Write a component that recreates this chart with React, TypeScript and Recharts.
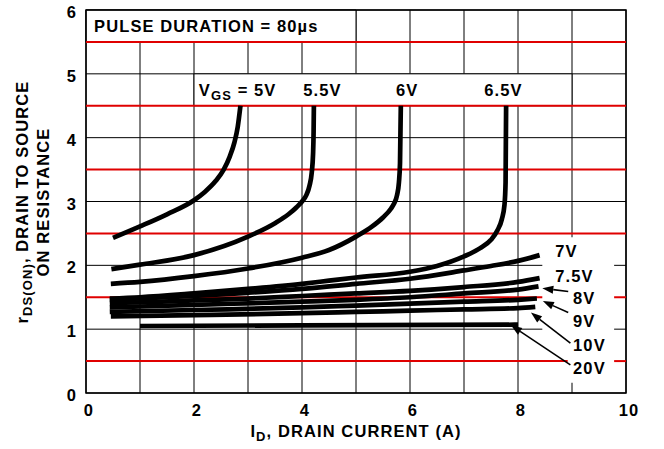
import React from 'react'
import {
  LineChart,
  Line,
  XAxis,
  YAxis,
  CartesianGrid,
  ReferenceArea,
  ReferenceLine,
  ReferenceDot,
} from 'recharts'

// rDS(ON) vs ID, one array per gate voltage (id = amps, r = normalized ohms)
const vgs5 = [
  { id: 0.5, r: 2.43 }, { id: 1, r: 2.61 }, { id: 1.5, r: 2.8 }, { id: 2, r: 3.02 },
  { id: 2.2, r: 3.15 }, { id: 2.4, r: 3.32 }, { id: 2.55, r: 3.5 }, { id: 2.66, r: 3.7 },
  { id: 2.75, r: 3.93 }, { id: 2.81, r: 4.17 }, { id: 2.86, r: 4.5 },
]
const vgs55 = [
  { id: 0.47, r: 1.94 }, { id: 1, r: 2.01 }, { id: 2, r: 2.16 }, { id: 3, r: 2.45 },
  { id: 3.5, r: 2.66 }, { id: 3.75, r: 2.8 }, { id: 3.9, r: 2.91 }, { id: 4, r: 3.0 },
  { id: 4.08, r: 3.1 }, { id: 4.14, r: 3.25 }, { id: 4.18, r: 3.45 }, { id: 4.205, r: 3.75 },
  { id: 4.215, r: 4.1 }, { id: 4.22, r: 4.5 },
]
const vgs6 = [
  { id: 0.46, r: 1.71 }, { id: 1, r: 1.74 }, { id: 2, r: 1.83 }, { id: 3, r: 1.95 },
  { id: 4, r: 2.12 }, { id: 4.5, r: 2.24 }, { id: 5, r: 2.45 }, { id: 5.3, r: 2.61 },
  { id: 5.5, r: 2.75 }, { id: 5.65, r: 2.89 }, { id: 5.7, r: 2.96 }, { id: 5.76, r: 3.1 },
  { id: 5.795, r: 3.3 }, { id: 5.815, r: 3.6 }, { id: 5.83, r: 4.5 },
]
const vgs65 = [
  { id: 0.44, r: 1.48 }, { id: 1, r: 1.5 }, { id: 2, r: 1.56 }, { id: 3, r: 1.63 },
  { id: 4, r: 1.71 }, { id: 4.5, r: 1.76 }, { id: 5, r: 1.81 }, { id: 6, r: 1.9 },
  { id: 6.5, r: 1.99 }, { id: 7, r: 2.14 }, { id: 7.3, r: 2.27 }, { id: 7.5, r: 2.4 },
  { id: 7.62, r: 2.55 }, { id: 7.7, r: 2.72 }, { id: 7.75, r: 2.95 }, { id: 7.77, r: 3.3 },
  { id: 7.78, r: 4.5 },
]
const vgs7 = [
  { id: 0.44, r: 1.46 }, { id: 1, r: 1.48 }, { id: 2, r: 1.52 }, { id: 3, r: 1.57 },
  { id: 4, r: 1.63 }, { id: 5, r: 1.71 }, { id: 6, r: 1.79 }, { id: 7, r: 1.92 },
  { id: 7.5, r: 1.99 }, { id: 8, r: 2.07 }, { id: 8.4, r: 2.16 },
]
const vgs75 = [
  { id: 0.44, r: 1.41 }, { id: 1, r: 1.42 }, { id: 2, r: 1.45 }, { id: 3, r: 1.48 },
  { id: 4, r: 1.52 }, { id: 5, r: 1.56 }, { id: 6, r: 1.6 }, { id: 7, r: 1.66 },
  { id: 8, r: 1.74 }, { id: 8.4, r: 1.8 },
]
const vgs8 = [
  { id: 0.44, r: 1.34 }, { id: 2, r: 1.38 }, { id: 4, r: 1.43 }, { id: 5, r: 1.46 },
  { id: 6, r: 1.5 }, { id: 7, r: 1.56 }, { id: 8, r: 1.62 }, { id: 8.38, r: 1.67 },
]
const vgs9 = [
  { id: 0.44, r: 1.27 }, { id: 2, r: 1.3 }, { id: 4, r: 1.34 }, { id: 5, r: 1.37 },
  { id: 6, r: 1.4 }, { id: 7, r: 1.43 }, { id: 8, r: 1.46 }, { id: 8.35, r: 1.48 },
]
const vgs10 = [
  { id: 0.46, r: 1.2 }, { id: 2, r: 1.22 }, { id: 4, r: 1.25 }, { id: 5, r: 1.27 },
  { id: 6, r: 1.29 }, { id: 7, r: 1.31 }, { id: 8, r: 1.33 }, { id: 8.32, r: 1.35 },
]
const vgs20 = [
  { id: 1, r: 1.05 }, { id: 4, r: 1.06 }, { id: 8, r: 1.07 },
]

const curves = [vgs5, vgs55, vgs6, vgs65, vgs7, vgs75, vgs8, vgs9, vgs10, vgs20]

const X_MAX = 10
const Y_MAX = 6
const xTicks = [0, 1, 2, 3, 4, 5, 6, 7, 8, 9, 10]
const yTicks = [0, 1, 2, 3, 4, 5, 6]
const yHalf = [0.5, 1.5, 2.5, 3.5, 4.5, 5.5]

// labels on top of the curves
const topLabels = [
  { x: 4.38, text: '5.5V' },
  { x: 5.95, text: '6V' },
  { x: 7.73, text: '6.5V' },
]
const sideLabels = [
  { x: 8.69, y: 2.22, text: '7V' },
  { x: 8.69, y: 1.83, text: '7.5V' },
  { x: 9.02, y: 1.48, text: '8V' },
  { x: 9.02, y: 1.12, text: '9V' },
  { x: 9.02, y: 0.75, text: '10V' },
  { x: 9.02, y: 0.39, text: '20V' },
]
// arrows: tail near the label, tip at the curve end
const arrows = [
  [{ x: 8.93, y: 1.59 }, { x: 8.45, y: 1.64 }],
  [{ x: 8.93, y: 1.26 }, { x: 8.46, y: 1.44 }],
  [{ x: 8.97, y: 0.78 }, { x: 8.24, y: 1.26 }],
  [{ x: 8.97, y: 0.44 }, { x: 7.87, y: 1.06 }],
]

// half-step grid line, broken where the right-hand label column sits
const halfSpans = (v: number) => {
  if (v === 0.5) return [[0, 8.92], [9.78, X_MAX]]
  if (v === 1.5) return [[0, 8.45], [9.78, X_MAX]]
  return [[0, X_MAX]]
}
const gridSegs = yHalf.flatMap((v) =>
  halfSpans(v).map(([a, b]) => [{ id: a, r: v }, { id: b, r: v }])
)

const font = "'Liberation Sans', Arial, Helvetica, sans-serif"
const txt = { fontFamily: font, fontWeight: 700, fontSize: 16.5, fill: '#000', letterSpacing: 1.1 }

const XTick = ({ x, y, payload }: any) =>
  payload.value % 2 === 0 ? (
    <text x={x + 3} y={y + 23} textAnchor="middle" style={txt}>{payload.value}</text>
  ) : <g />

const YTick = ({ x, y, payload }: any) => (
  <text x={x - 9} y={y + 8} textAnchor="end" style={txt}>{payload.value}</text>
)

const XTitle = () => (
  <text x={356} y={437} textAnchor="middle" style={txt}>
    I<tspan dy={4} fontSize={13}>D</tspan><tspan dy={-4}>, DRAIN CURRENT (A)</tspan>
  </text>
)

const YTitle = () => (
  <g>
    <text x={28} y={202} transform="rotate(-90 28 202)" textAnchor="middle" style={txt}>
      r<tspan dy={4} fontSize={13}>DS(ON)</tspan><tspan dy={-4}>, DRAIN TO SOURCE</tspan>
    </text>
    <text x={49} y={202} transform="rotate(-90 49 202)" textAnchor="middle" style={txt}>
      ON RESISTANCE
    </text>
  </g>
)

const ArrowShape = (p: any) => {
  const { x1, y1, x2, y2 } = p
  const a = Math.atan2(y2 - y1, x2 - x1)
  const len = 11
  const half = 4
  const bx = x2 - len * Math.cos(a)
  const by = y2 - len * Math.sin(a)
  const px = -Math.sin(a) * half
  const py = Math.cos(a) * half
  return (
    <g>
      <line x1={x1} y1={y1} x2={bx} y2={by} stroke="#000" strokeWidth={1.6} />
      <polygon points={`${x2},${y2} ${bx + px},${by + py} ${bx - px},${by - py}`} fill="#000" />
    </g>
  )
}

export default function App() {
  return (
    <div style={{ position: 'absolute', left: 0, top: 0, background: '#fff' }}>
      <LineChart width={664} height={449} margin={{ top: 10, right: 38, bottom: 0, left: 0 }}>
        <CartesianGrid stroke="#000" strokeWidth={1} />
        <XAxis
          type="number"
          dataKey="id"
          domain={[0, X_MAX]}
          ticks={xTicks}
          interval={0}
          height={56}
          axisLine={false}
          tickLine={false}
          tickSize={0}
          tickMargin={0}
          tick={<XTick />}
          label={XTitle}
        />
        <YAxis
          type="number"
          domain={[0, Y_MAX]}
          ticks={yTicks}
          interval={0}
          width={86}
          axisLine={false}
          tickLine={false}
          tickSize={0}
          tickMargin={0}
          tick={<YTick />}
          label={YTitle}
        />

        <ReferenceArea x1={0} x2={5} y1={5.5} y2={6} fill="#fff" fillOpacity={1} stroke="#000" strokeWidth={1} />
        <ReferenceArea x1={2} x2={9} y1={4.5} y2={5} fill="#fff" fillOpacity={1} stroke="#000" strokeWidth={1} />
        <ReferenceArea x1={8.45} x2={9.78} y1={0.16} y2={2.44} fill="#fff" fillOpacity={1} />
        <ReferenceArea x1={0} x2={X_MAX} y1={0} y2={Y_MAX} fill="none" stroke="#000" strokeWidth={1.5} />

        {gridSegs.map((d, i) => (
          <Line
            key={`g${i}`}
            data={d}
            dataKey="r"
            type="linear"
            stroke="#e00000"
            strokeWidth={2}
            dot={false}
            activeDot={false}
            isAnimationActive={false}
          />
        ))}

        {curves.map((d, i) => (
          <Line
            key={i}
            data={d}
            dataKey="r"
            type="monotone"
            stroke="#000"
            strokeWidth={4.7}
            dot={false}
            activeDot={false}
            isAnimationActive={false}
          />
        ))}

        {arrows.map((seg, i) => (
          <ReferenceLine key={i} segment={seg} shape={ArrowShape} />
        ))}

        <ReferenceDot
          x={0.15}
          y={5.75}
          r={0}
          shape={(p: any) => (
            <text x={p.cx} y={p.cy} dy="0.35em" style={txt}>PULSE DURATION = 80µs</text>
          )}
        />
        <ReferenceDot
          x={2.09}
          y={4.66}
          r={0}
          shape={(p: any) => (
            <text x={p.cx} y={p.cy} style={txt}>
              V<tspan dy={4} fontSize={13}>GS</tspan><tspan dy={-4}> = 5V</tspan>
            </text>
          )}
        />
        {topLabels.map((l) => (
          <ReferenceDot
            key={l.text}
            x={l.x}
            y={4.66}
            r={0}
            shape={(p: any) => (
              <text x={p.cx} y={p.cy} textAnchor="middle" style={txt}>{l.text}</text>
            )}
          />
        ))}
        {sideLabels.map((l) => (
          <ReferenceDot
            key={l.text}
            x={l.x}
            y={l.y}
            r={0}
            shape={(p: any) => (
              <text x={p.cx} y={p.cy} dy="0.35em" style={txt}>{l.text}</text>
            )}
          />
        ))}
      </LineChart>
    </div>
  )
}
